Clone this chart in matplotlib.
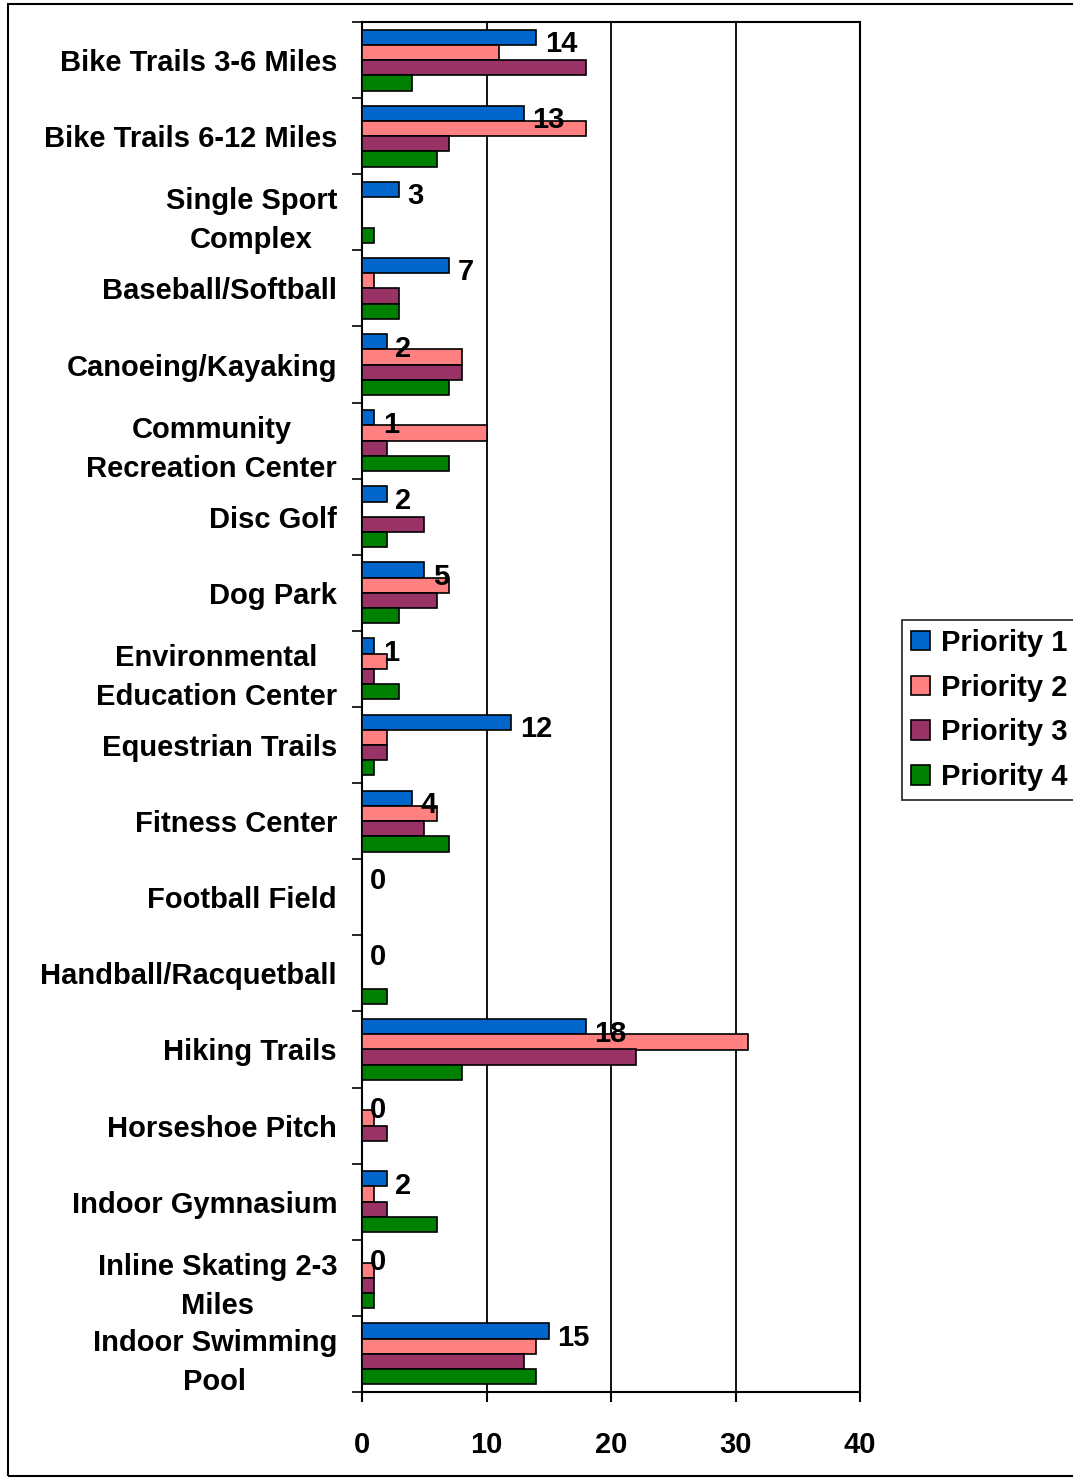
import matplotlib.pyplot as plt
import numpy as np
from matplotlib.patches import Rectangle

plt.rcParams["font.family"] = ["Liberation Sans", "DejaVu Sans"]
plt.rcParams["font.weight"] = "bold"

categories = [
    "Bike Trails 3-6 Miles",
    "Bike Trails 6-12 Miles",
    "Single Sport\nComplex",
    "Baseball/Softball",
    "Canoeing/Kayaking",
    "Community\nRecreation Center",
    "Disc Golf",
    "Dog Park",
    "Environmental\nEducation Center",
    "Equestrian Trails",
    "Fitness Center",
    "Football Field",
    "Handball/Racquetball",
    "Hiking Trails",
    "Horseshoe Pitch",
    "Indoor Gymnasium",
    "Inline Skating 2-3\nMiles",
    "Indoor Swimming\nPool",
]
priority_1 = [14, 13, 3, 7, 2, 1, 2, 5, 1, 12, 4, 0, 0, 18, 0, 2, 0, 15]
priority_2 = [11, 18, 0, 1, 8, 10, 0, 7, 2, 2, 6, 0, 0, 31, 1, 1, 1, 14]
priority_3 = [18, 7, 0, 3, 8, 2, 5, 6, 1, 2, 5, 0, 0, 22, 2, 2, 1, 13]
priority_4 = [4, 6, 1, 3, 7, 7, 2, 3, 3, 1, 7, 0, 2, 8, 0, 6, 1, 14]
series_names = ["Priority 1", "Priority 2", "Priority 3", "Priority 4"]
colors = ["#0066CC", "#FF8080", "#993366", "#008000"]

FS = 21
W, H = 1073, 1479
fig = plt.figure(figsize=(W / 100, H / 100), dpi=100)
ax = fig.add_axes([362 / W, 1 - 1392 / H, (860 - 362) / W, (1392 - 22) / H])

centers = np.arange(len(categories)) + 0.5
height = 0.2
series = [priority_1, priority_2, priority_3, priority_4]
for k, (vals, name, color) in enumerate(zip(series, series_names, colors)):
    ax.barh(centers + (k - 1.5) * height, vals, height=height, color=color,
            edgecolor="black", linewidth=1.2, label=name, zorder=3)

# value labels on the Priority 1 bars only
for y, v in zip(centers - 1.5 * height, priority_1):
    ax.annotate(str(v), (v, y), xytext=(6, -5), textcoords="offset points",
                ha="left", va="center", fontsize=FS, fontweight="bold", zorder=4)

ax.set_xlim(0, 40)
ax.set_ylim(len(categories), 0)
ax.set_xticks([0, 10, 20, 30, 40])
ax.tick_params(axis="x", length=7, width=1.5, pad=21, labelsize=FS)
ax.set_yticks(np.arange(len(categories) + 1))
ax.set_yticklabels([])
ax.tick_params(axis="y", which="major", length=7, width=1.2)
ax.set_yticks(centers, minor=True)
ax.set_yticklabels(categories, minor=True, fontsize=FS, fontweight="bold",
                   multialignment="center", linespacing=1.5)
ax.tick_params(axis="y", which="minor", length=0, pad=18)
ax.grid(axis="x", color="black", linewidth=1.3, zorder=0)
for side in ["top", "bottom", "left", "right"]:
    ax.spines[side].set_linewidth(1.5)

leg = fig.legend(loc="center left", bbox_to_anchor=(902 / W, 1 - 710 / H),
                 prop={"size": FS, "weight": "bold"}, frameon=True, fancybox=False,
                 edgecolor="black", handlelength=0.65, handleheight=0.65,
                 handletextpad=0.4, labelspacing=0.58, borderpad=0.3,
                 borderaxespad=0)
leg.get_frame().set_linewidth(1.3)
for h in leg.legend_handles:
    h.set_edgecolor("black")

fig.patches.append(Rectangle((8 / W, 1 - 1476 / H), 1.2, (1476 - 4) / H,
                             transform=fig.transFigure, fill=False,
                             edgecolor="black", linewidth=1.5))

fig.savefig("out.png", dpi=100)
